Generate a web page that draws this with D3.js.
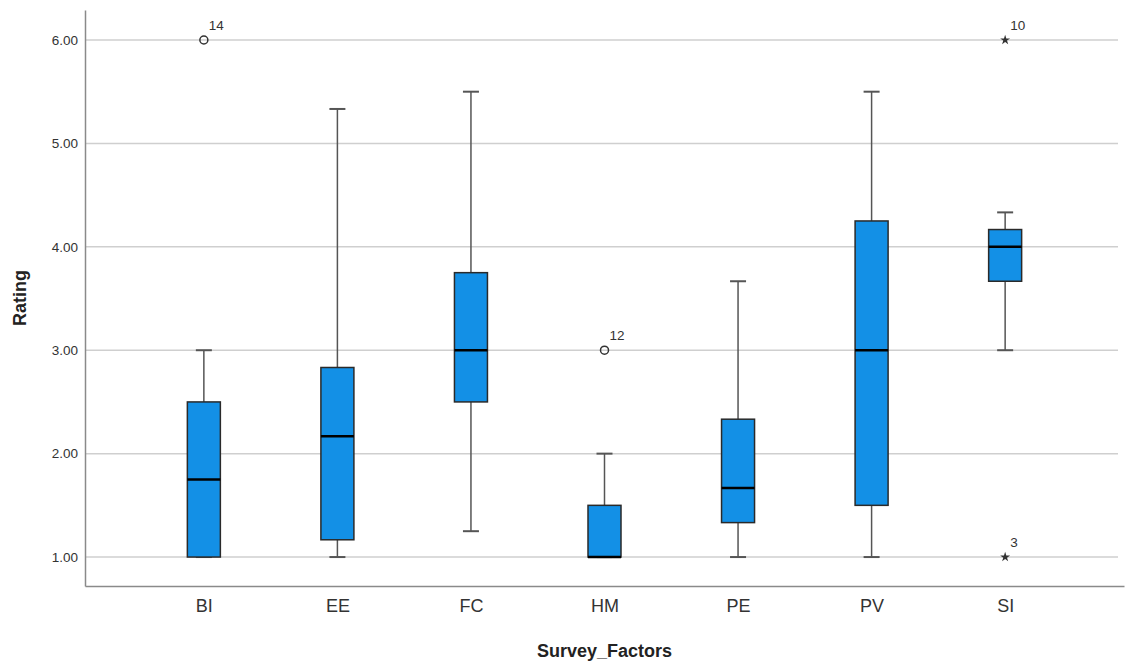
<!DOCTYPE html>
<html>
<head>
<meta charset="utf-8">
<script src="https://cdn.jsdelivr.net/npm/d3@7"></script>
<style>
    body { margin: 0; background: #fff; }
    text { font-family: 'Liberation Sans', Arial, sans-serif; }
</style>
</head>
<body>
<div id="chart"></div>
<script>
// Data
var categories = ['BI', 'EE', 'FC', 'HM', 'PE', 'PV', 'SI'];
var mins = [1, 1, 1.25, 1, 1, 1, 3];
var q1s = [1, 1.167, 2.5, 1, 1.333, 1.5, 3.667];
var medians = [1.75, 2.167, 3, 1, 1.667, 3, 4];
var q3s = [2.5, 2.833, 3.75, 1.5, 2.333, 4.25, 4.167];
var maxs = [3, 5.333, 5.5, 2, 3.667, 5.5, 4.333];

// outliers: circle = mild, star = extreme
var outlierCats = ['BI', 'HM', 'SI', 'SI'];
var outlierValues = [6, 3, 6, 1];
var outlierLabels = ['14', '12', '10', '3'];
var outlierTypes = ['circle', 'circle', 'star', 'star'];

var yTicks = [1, 2, 3, 4, 5, 6];

var W = 1126, H = 665;
var margin = { top: 10, right: 8, bottom: 79, left: 85 };
var width = W - margin.left - margin.right,
    height = H - margin.top - margin.bottom;

var boxes = categories.map(function (c, i) {
    return { cat: c, min: mins[i], q1: q1s[i], med: medians[i], q3: q3s[i], max: maxs[i] };
});
var outliers = outlierCats.map(function (c, i) {
    return { cat: c, value: outlierValues[i], label: outlierLabels[i], type: outlierTypes[i] };
});

var svg = d3.select('#chart')
    .append('svg')
    .attr('width', W)
    .attr('height', H);
var g = svg.append('g')
    .attr('transform', 'translate(' + margin.left + ',' + margin.top + ')');

var x = d3.scalePoint().domain(categories).range([0, width + 6]).padding(0.89);
var y = d3.scaleLinear().domain([0.72, 6.29]).range([height, 0]);

// Grid lines
g.append('g')
    .selectAll('line')
    .data(yTicks)
    .enter()
    .append('line')
    .attr('x1', 0)
    .attr('x2', width)
    .attr('y1', function (d) { return y(d); })
    .attr('y2', function (d) { return y(d); })
    .attr('stroke', '#cfcfcf')
    .attr('stroke-width', 1.5);

// Y axis
var yAxis = d3.axisLeft(y).tickValues(yTicks).tickSize(0).tickPadding(7).tickFormat(d3.format('.2f'));
var ya = g.append('g').attr('class', 'y axis').call(yAxis);
ya.select('.domain').attr('stroke', '#8a8a8a').attr('stroke-width', 1.5);
ya.selectAll('text').attr('font-size', 13.5).attr('fill', '#333');

// X axis
var xAxis = d3.axisBottom(x).tickSize(0).tickPadding(13);
var xa = g.append('g')
    .attr('class', 'x axis')
    .attr('transform', 'translate(0,' + height + ')')
    .call(xAxis);
xa.select('.domain').attr('stroke', '#8a8a8a').attr('stroke-width', 1.5);
xa.selectAll('text').attr('font-size', 18).attr('fill', '#333');

// Axis titles
svg.append('text')
    .attr('x', margin.left + width / 2 + 3)
    .attr('y', 657)
    .attr('text-anchor', 'middle')
    .attr('font-size', 18)
    .attr('font-weight', 'bold')
    .attr('fill', '#222')
    .text('Survey_Factors');

svg.append('text')
    .attr('transform', 'translate(26,' + (margin.top + height / 2) + ') rotate(-90)')
    .attr('text-anchor', 'middle')
    .attr('font-size', 18)
    .attr('font-weight', 'bold')
    .attr('fill', '#222')
    .text('Rating');

// Boxes
var boxW = 33, capW = 16;
var bx = g.selectAll('.box')
    .data(boxes)
    .enter()
    .append('g')
    .attr('class', 'box')
    .attr('transform', function (d) { return 'translate(' + x(d.cat) + ',0)'; });

// whiskers
bx.append('line')
    .attr('x1', 0).attr('x2', 0)
    .attr('y1', function (d) { return y(d.max); })
    .attr('y2', function (d) { return y(d.q3); })
    .attr('stroke', '#555').attr('stroke-width', 1.5);
bx.append('line')
    .attr('x1', 0).attr('x2', 0)
    .attr('y1', function (d) { return y(d.q1); })
    .attr('y2', function (d) { return y(d.min); })
    .attr('stroke', '#555').attr('stroke-width', 1.5);
// caps
bx.append('line')
    .attr('x1', -capW / 2).attr('x2', capW / 2)
    .attr('y1', function (d) { return y(d.max); })
    .attr('y2', function (d) { return y(d.max); })
    .attr('stroke', '#555').attr('stroke-width', 2);
bx.append('line')
    .attr('x1', -capW / 2).attr('x2', capW / 2)
    .attr('y1', function (d) { return y(d.min); })
    .attr('y2', function (d) { return y(d.min); })
    .attr('stroke', '#555').attr('stroke-width', 2);

// box body
bx.append('rect')
    .attr('x', -boxW / 2)
    .attr('width', boxW)
    .attr('y', function (d) { return y(d.q3); })
    .attr('height', function (d) { return y(d.q1) - y(d.q3); })
    .attr('fill', '#1390e6')
    .attr('stroke', '#2a2a2a')
    .attr('stroke-width', 1.5);

// median
bx.append('line')
    .attr('x1', -boxW / 2).attr('x2', boxW / 2)
    .attr('y1', function (d) { return y(d.med); })
    .attr('y2', function (d) { return y(d.med); })
    .attr('stroke', '#000').attr('stroke-width', 2.5);

// Outliers
var og = g.selectAll('.outlier')
    .data(outliers)
    .enter()
    .append('g')
    .attr('class', 'outlier')
    .attr('transform', function (d) { return 'translate(' + x(d.cat) + ',' + y(d.value) + ')'; });

og.filter(function (d) { return d.type === 'circle'; })
    .append('circle')
    .attr('r', 4)
    .attr('fill', 'none')
    .attr('stroke', '#333')
    .attr('stroke-width', 1.5);

og.filter(function (d) { return d.type === 'star'; })
    .append('path')
    .attr('d', d3.symbol().type(d3.symbolStar).size(30))
    .attr('fill', '#333');

og.append('text')
    .attr('x', 5)
    .attr('y', -10)
    .attr('font-size', 13.5)
    .attr('fill', '#333')
    .text(function (d) { return d.label; });
</script>
</body>
</html>
